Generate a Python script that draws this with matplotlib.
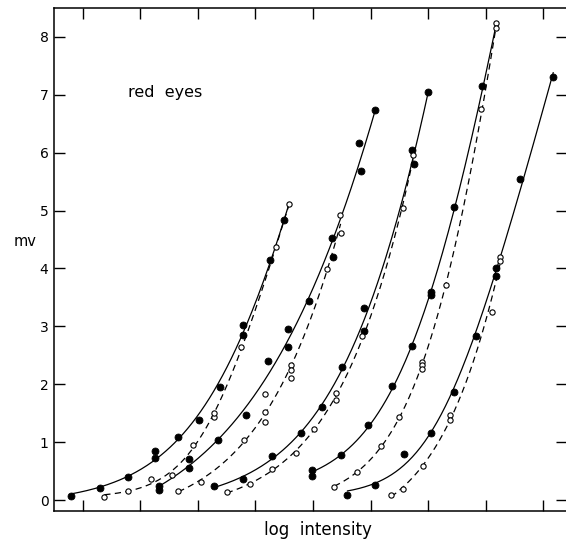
import numpy as np
import matplotlib
matplotlib.use('Agg')
import matplotlib.pyplot as plt

# response amplitude (mv) vs log intensity, five pairs of curves
# filled = solid curve, open = dashed curve
s1x = [0.80, 1.29, 1.79, 2.26, 2.26, 2.66, 3.02, 3.38, 3.78, 3.79, 4.25, 4.50]
s1y = [0.07, 0.20, 0.40, 0.72, 0.85, 1.08, 1.38, 1.95, 3.03, 2.85, 4.14, 4.84]
o1x = [1.37, 1.79, 2.18, 2.55, 2.91, 3.28, 3.28, 3.75, 4.35, 4.59]
o1y = [0.05, 0.16, 0.36, 0.44, 0.95, 1.43, 1.50, 2.64, 4.37, 5.11]

s2x = [2.33, 2.33, 2.84, 2.84, 3.35, 3.83, 4.22, 4.57, 4.57, 4.93, 5.34, 5.33, 5.83, 5.80, 6.08]
s2y = [0.25, 0.18, 0.70, 0.55, 1.03, 1.47, 2.40, 2.64, 2.96, 3.43, 4.19, 4.52, 5.68, 6.16, 6.74]
o2x = [2.66, 3.06, 3.80, 4.17, 4.17, 4.17, 4.62, 4.62, 4.62, 5.24, 5.48, 5.47]
o2y = [0.16, 0.31, 1.03, 1.35, 1.52, 1.83, 2.33, 2.25, 2.11, 3.99, 4.62, 4.92]

s3x = [3.28, 3.79, 4.29, 4.79, 5.15, 5.51, 5.89, 5.89, 6.76, 6.73, 7.00]
s3y = [0.24, 0.37, 0.76, 1.15, 1.61, 2.29, 2.92, 3.31, 5.80, 6.04, 7.05]
o3x = [3.50, 3.90, 4.28, 4.70, 5.02, 5.40, 5.40, 5.86, 6.57, 6.74]
o3y = [0.13, 0.27, 0.54, 0.82, 1.22, 1.73, 1.84, 2.84, 5.04, 5.96]

s4x = [4.98, 4.98, 5.49, 5.96, 6.37, 6.72, 7.06, 7.06, 7.45, 7.94]
s4y = [0.51, 0.42, 0.78, 1.30, 1.97, 2.66, 3.59, 3.55, 5.06, 7.16]
o4x = [5.37, 5.77, 6.18, 6.50, 6.89, 6.89, 6.89, 7.32, 7.93, 8.19, 8.19]
o4y = [0.22, 0.48, 0.94, 1.43, 2.39, 2.33, 2.26, 3.71, 6.75, 8.24, 8.16]

s5x = [5.59, 6.08, 6.59, 7.06, 7.45, 7.83, 8.18, 8.18, 8.60, 9.18]
s5y = [0.09, 0.26, 0.79, 1.15, 1.87, 2.84, 4.00, 3.87, 5.54, 7.30]
o5x = [6.36, 6.57, 6.92, 7.38, 7.38, 8.11, 8.25, 8.25]
o5y = [0.08, 0.19, 0.58, 1.47, 1.39, 3.24, 4.19, 4.13]

filled = [(s1x, s1y), (s2x, s2y), (s3x, s3y), (s4x, s4y), (s5x, s5y)]
opened = [(o1x, o1y), (o2x, o2y), (o3x, o3y), (o4x, o4y), (o5x, o5y)]

yticks = [0, 1, 2, 3, 4, 5, 6, 7, 8]
xticks = [1, 2, 3, 4, 5, 6, 7, 8, 9]

plt.rcParams['font.family'] = 'DejaVu Sans'

fig = plt.figure(figsize=(5.66, 5.43), dpi=100)
ax = fig.add_axes([54/566, 32/543, 513/566, 503/543])


def trend(x, y, x0, x1):
    # least squares fit of y = A*log(1+exp(k*(x-m))) + B
    x = np.asarray(x); y = np.asarray(y)
    best = None
    for k in np.arange(0.4, 6.0, 0.05):
        for m in np.arange(x.min() - 1.5, x.max() + 0.5, 0.02):
            f = np.logaddexp(0, k*(x - m))
            M = np.column_stack([f, np.ones_like(f)])
            coef, *_ = np.linalg.lstsq(M, y, rcond=None)
            err = np.sum((M @ coef - y)**2)
            if best is None or err < best[0]:
                best = (err, coef, k, m)
    _, (A, B), k, m = best
    xs = np.linspace(x0, x1, 200)
    return xs, A*np.logaddexp(0, k*(xs - m)) + B


for (sx, sy), (ox, oy) in zip(filled, opened):
    # open points above the last filled one sit on the solid curve
    top = [i for i in range(len(ox)) if ox[i] > max(sx)]
    fx = list(sx) + [ox[i] for i in top]
    fy = list(sy) + [oy[i] for i in top]
    xs, ys = trend(fx, fy, min(fx), max(fx))
    ax.plot(xs, ys, color='black', lw=0.9, solid_capstyle='butt')
    xs, ys = trend(ox, oy, min(ox), max(ox))
    ax.plot(xs, ys, color='black', lw=0.9, linestyle=(0, (5, 3.5)))
    ax.plot(sx, sy, 'o', ms=5, mfc='black', mec='black', mew=0.6, zorder=3)
    ax.plot(ox, oy, 'o', ms=3.8, mfc='white', mec='black', mew=0.8, zorder=3)

ax.set_xlim(0.496, 9.417)
ax.set_ylim(-0.19, 8.5)
ax.set_xticks(xticks)
ax.set_yticks(yticks)
ax.set_xticklabels([])
ax.set_yticklabels([str(t) for t in yticks], fontsize=10)
ax.tick_params(axis='both', direction='in', length=8, width=1.0,
               top=True, right=True, pad=4)
for sp in ax.spines.values():
    sp.set_linewidth(1.1)
ax.spines['right'].set_visible(False)

fig.text(128/566, 1 - 92/543, 'red  eyes', fontsize=11.5, va='center')
fig.text(25/566, 1 - 242/543, 'mv', fontsize=10.5, ha='center', va='center')
fig.text(318/566, 1 - 530/543, 'log  intensity', fontsize=12, ha='center', va='center')

fig.savefig('out.png', dpi=100)
